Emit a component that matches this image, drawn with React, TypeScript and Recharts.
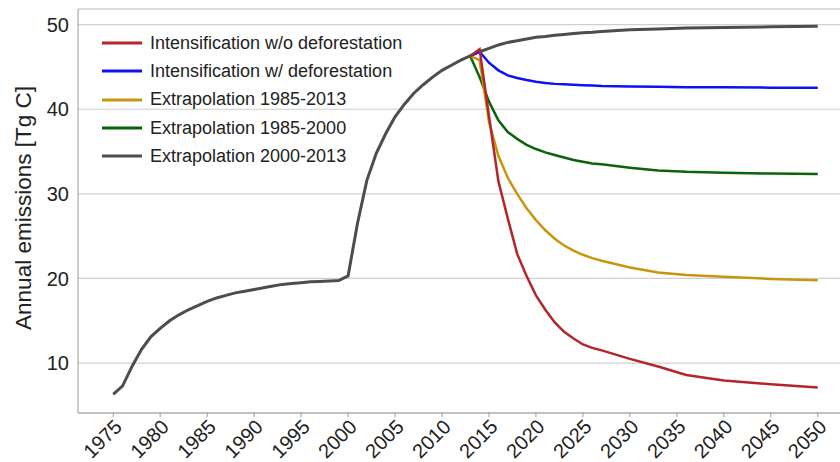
import React from 'react';
import { LineChart, Line, XAxis, YAxis, CartesianGrid, ReferenceLine } from 'recharts';

// years sampled (yearly up to 2027, sparser afterwards)
const years = [
  1975, 1976, 1977, 1978, 1979, 1980, 1981, 1982, 1983, 1984,
  1985, 1986, 1987, 1988, 1989, 1990, 1991, 1992, 1993, 1994,
  1995, 1996, 1997, 1998, 1999, 2000, 2001, 2002, 2003, 2004,
  2005, 2006, 2007, 2008, 2009, 2010, 2011, 2012, 2013, 2014,
  2015, 2016, 2017, 2018, 2019, 2020, 2021, 2022, 2023, 2024,
  2025, 2026, 2027, 2030, 2033, 2036, 2040, 2045, 2050,
];

// historical + extrapolation 2000-2013 (full range)
const extrap2000 = [
  6.3, 7.3, 9.6, 11.6, 13.1, 14.1, 15.0, 15.7, 16.3, 16.8,
  17.3, 17.7, 18.0, 18.3, 18.5, 18.7, 18.9, 19.1, 19.3, 19.4,
  19.5, 19.6, 19.65, 19.7, 19.75, 20.3, 26.5, 31.6, 34.8, 37.1,
  39.1, 40.6, 41.9, 42.9, 43.8, 44.6, 45.2, 45.8, 46.3, 46.8,
  47.2, 47.6, 47.9, 48.1, 48.3, 48.5, 48.6, 48.75, 48.85, 48.95,
  49.05, 49.1, 49.2, 49.4, 49.5, 49.6, 49.65, 49.75, 49.8,
];

// scenarios start in 2013
const scenarioStart = 2013;
const intensNoDefor = [
  46.3, 47.1, 39.2, 31.5, 27.1, 22.9, 20.3, 18.0, 16.3, 14.8,
  13.7, 12.9, 12.2, 11.8, 11.5, 10.5, 9.6, 8.6, 7.95, 7.5, 7.1,
];
const intensDefor = [
  46.3, 46.8, 45.5, 44.6, 44.0, 43.7, 43.45, 43.25, 43.1, 43.0,
  42.95, 42.9, 42.85, 42.8, 42.75, 42.7, 42.65, 42.6, 42.6, 42.55, 42.55,
];
const extrap1985_2013 = [
  46.3, 45.8, 38.5, 34.5, 31.9, 30.0, 28.3, 26.9, 25.7, 24.7,
  23.9, 23.3, 22.8, 22.4, 22.1, 21.3, 20.7, 20.4, 20.2, 19.95, 19.8,
];
const extrap1985_2000 = [
  46.3, 43.8, 40.9, 38.7, 37.3, 36.5, 35.8, 35.3, 34.9, 34.6,
  34.3, 34.0, 33.8, 33.6, 33.5, 33.1, 32.75, 32.6, 32.5, 32.4, 32.35,
];

const xTicks = [1975, 1980, 1985, 1990, 1995, 2000, 2005, 2010, 2015, 2020, 2025, 2030, 2035, 2040, 2045, 2050];
const yTicks = [10, 20, 30, 40, 50];

const series = [
  { key: 'red', name: 'Intensification w/o deforestation', color: '#b3262a', width: 2.5 },
  { key: 'blue', name: 'Intensification w/ deforestation', color: '#1010f5', width: 2.5 },
  { key: 'orange', name: 'Extrapolation 1985-2013', color: '#c8960e', width: 2.5 },
  { key: 'green', name: 'Extrapolation 1985-2000', color: '#0b640b', width: 2.5 },
  { key: 'gray', name: 'Extrapolation 2000-2013', color: '#4d4d4d', width: 3 },
];

const startIdx = years.indexOf(scenarioStart);
const pick = (arr: number[], i: number) => (i >= startIdx ? arr[i - startIdx] : null);

const data = years.map((year, i) => ({
  year,
  gray: extrap2000[i],
  red: pick(intensNoDefor, i),
  blue: pick(intensDefor, i),
  orange: pick(extrap1985_2013, i),
  green: pick(extrap1985_2000, i),
}));

const FONT = '"Liberation Sans", Arial, sans-serif';
const Y_MAX = 51.85;

const XTick = (props: any) => {
  const { x, y, payload } = props;
  const ax = x + 10;
  const ay = y + 8;
  return (
    <text
      x={ax}
      y={ay}
      textAnchor="end"
      fontSize={20}
      fontFamily={FONT}
      fill="#222"
      transform={`rotate(-45, ${ax}, ${ay})`}
    >
      {payload.value}
    </text>
  );
};

// legend drawn as an overlay so it doesn't eat into the plot area
const LegendBox = () => (
  <div style={{ position: 'absolute', left: 102, top: 29, fontFamily: FONT, fontSize: 18, color: '#222' }}>
    {series.map((s) => (
      <div key={s.key} style={{ display: 'flex', alignItems: 'center', height: 28.3, whiteSpace: 'nowrap' }}>
        <svg width={40} height={6} style={{ marginRight: 8 }}>
          <line x1={0} y1={3} x2={40} y2={3} stroke={s.color} strokeWidth={3} />
        </svg>
        <span>{s.name}</span>
      </div>
    ))}
  </div>
);

export default function App() {
  // draw gray first so the scenarios sit on top of it
  const drawOrder = ['gray', 'green', 'orange', 'blue', 'red'];
  return (
    <div style={{ position: 'absolute', left: 0, top: 0, width: 840, height: 462, overflow: 'hidden', background: '#fff' }}>
      <LineChart width={853} height={462} data={data} margin={{ top: 9, right: 0, bottom: 0, left: 0 }}>
        <CartesianGrid vertical={false} stroke="#cfcfcf" strokeWidth={1.2} />
        <ReferenceLine y={Y_MAX} stroke="#cfcfcf" strokeWidth={1.2} />
        <XAxis
          dataKey="year"
          type="number"
          domain={[1971.25, 2053.75]}
          ticks={xTicks}
          height={49}
          tickSize={4}
          tickMargin={3}
          stroke="#9a9a9a"
          tick={<XTick />}
          interval={0}
        />
        <YAxis
          type="number"
          domain={[4.1, Y_MAX]}
          ticks={yTicks}
          width={78}
          tickSize={0}
          tickMargin={9}
          stroke="#9a9a9a"
          tick={{ fontSize: 20, fontFamily: FONT, fill: '#222' }}
          label={(props: any) => {
            const vb = props.viewBox || { x: 0, y: 9, width: 78, height: 404 };
            const cx = 23;
            const cy = vb.y + vb.height / 2 - 3;
            return (
              <text
                x={cx}
                y={cy}
                textAnchor="middle"
                dominantBaseline="central"
                fontSize={22.5}
                fontFamily={FONT}
                fill="#222"
                transform={`rotate(-90, ${cx}, ${cy})`}
              >
                Annual emissions [Tg C]
              </text>
            );
          }}
        />
        {drawOrder.map((k) => {
          const s = series.find((d) => d.key === k)!;
          return (
            <Line
              key={s.key}
              dataKey={s.key}
              name={s.name}
              type="linear"
              stroke={s.color}
              strokeWidth={s.width}
              dot={false}
              activeDot={false}
              isAnimationActive={false}
            />
          );
        })}
      </LineChart>
      <LegendBox />
    </div>
  );
}
